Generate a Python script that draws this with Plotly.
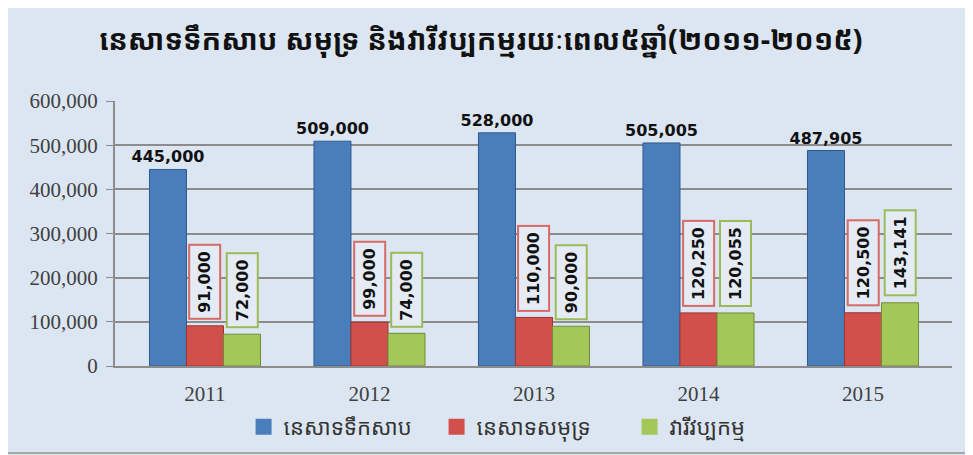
import plotly.graph_objects as go

years = ["2011", "2012", "2013", "2014", "2015"]
fresh = [445000, 509000, 528000, 505005, 487905]
marine = [91000, 99000, 110000, 120250, 120500]
aqua = [72000, 74000, 90000, 120055, 143141]

names = ["នេសាទទឹកសាប", "នេសាទសមុទ្រ", "វារីវប្បកម្ម"]
colors = ["#4a7ebb", "#d2504c", "#a4c75a"]
title_text = "នេសាទទឹកសាប សមុទ្រ និងវារីវប្បកម្មរយៈពេល៥ឆ្នាំ(២០១១-២០១៥)"

khmer = "Noto Sans Khmer, Khmer OS, Noto Sans, DejaVu Sans, sans-serif"
label_font = dict(family="DejaVu Sans, sans-serif", size=16,
                  color="#111111", weight="bold")
tick_font = dict(family="Liberation Serif, serif", size=21, color="#404040")

xpos = list(range(len(years)))

fig = go.Figure()
fig.add_trace(go.Bar(x=xpos, y=fresh, name=names[0], showlegend=False,
                     marker=dict(color=colors[0], line=dict(color="#2f5a8e", width=1)),
                     text=[f"{v:,}" for v in fresh], textposition="outside",
                     constraintext="none", textfont=label_font, cliponaxis=False))
fig.add_trace(go.Bar(x=xpos, y=marine, name=names[1], showlegend=False,
                     marker=dict(color=colors[1], line=dict(color="#9c3532", width=1))))
fig.add_trace(go.Bar(x=xpos, y=aqua, name=names[2], showlegend=False,
                     marker=dict(color=colors[2], line=dict(color="#6f8d35", width=1))))

# legend entries with bigger square keys
for nm, c in zip(names, colors):
    fig.add_trace(go.Scatter(x=[None], y=[None], mode="markers", name=nm,
                             marker=dict(symbol="square", size=18, color=c)))

fig.update_layout(
    width=965, height=455,
    margin=dict(l=107, r=21, t=93, b=97),
    paper_bgcolor="#dce6f2", plot_bgcolor="#dce6f2",
    barmode="group", bargap=0.325, bargroupgap=0,
    title=dict(text=title_text, x=0.49, xanchor="center", y=0.93, yanchor="middle",
               font=dict(family=khmer, size=29, color="#111111", weight="bold")),
    legend=dict(orientation="h", x=0.4995, xanchor="center", y=-0.23, yanchor="middle",
                font=dict(family=khmer, size=22, color="#333333"),
                entrywidth=148, bgcolor="rgba(0,0,0,0)"),
    showlegend=True,
)
fig.update_xaxes(range=[-0.547, 4.541], tickvals=xpos, ticktext=years,
                 showline=True, linecolor="#8c8c8c", linewidth=2, ticks="",
                 ticklabelstandoff=8, tickfont=tick_font)
fig.update_yaxes(range=[0, 600000], dtick=100000, tickformat=",",
                 showgrid=True, gridcolor="#8c8c8c", gridwidth=1.5,
                 showline=True, linecolor="#8c8c8c", linewidth=2,
                 ticks="outside", ticklen=7, tickcolor="#8c8c8c", zeroline=False,
                 ticklabelstandoff=4, tickfont=tick_font)

# boxed, rotated labels for the two smaller series
for vals, col, shift in [(marine, "#d66a66", 0), (aqua, "#9bbb59", 37)]:
    for xp, v in zip(xpos, vals):
        fig.add_annotation(x=xp, y=v, xref="x", yref="y", xshift=shift, yshift=6,
                           yanchor="bottom", text=f"{v:,}", textangle=-90,
                           showarrow=False, font=label_font, bordercolor=col,
                           borderwidth=2, borderpad=5, bgcolor="#e4ebf5")

# outer frame
fig.add_shape(type="rect", xref="paper", yref="paper", x0=-0.13, x1=1.05, y0=-0.328, y1=1.37,
              line=dict(color="#a6a6a6", width=2), layer="below")

fig.write_html("out.html")
